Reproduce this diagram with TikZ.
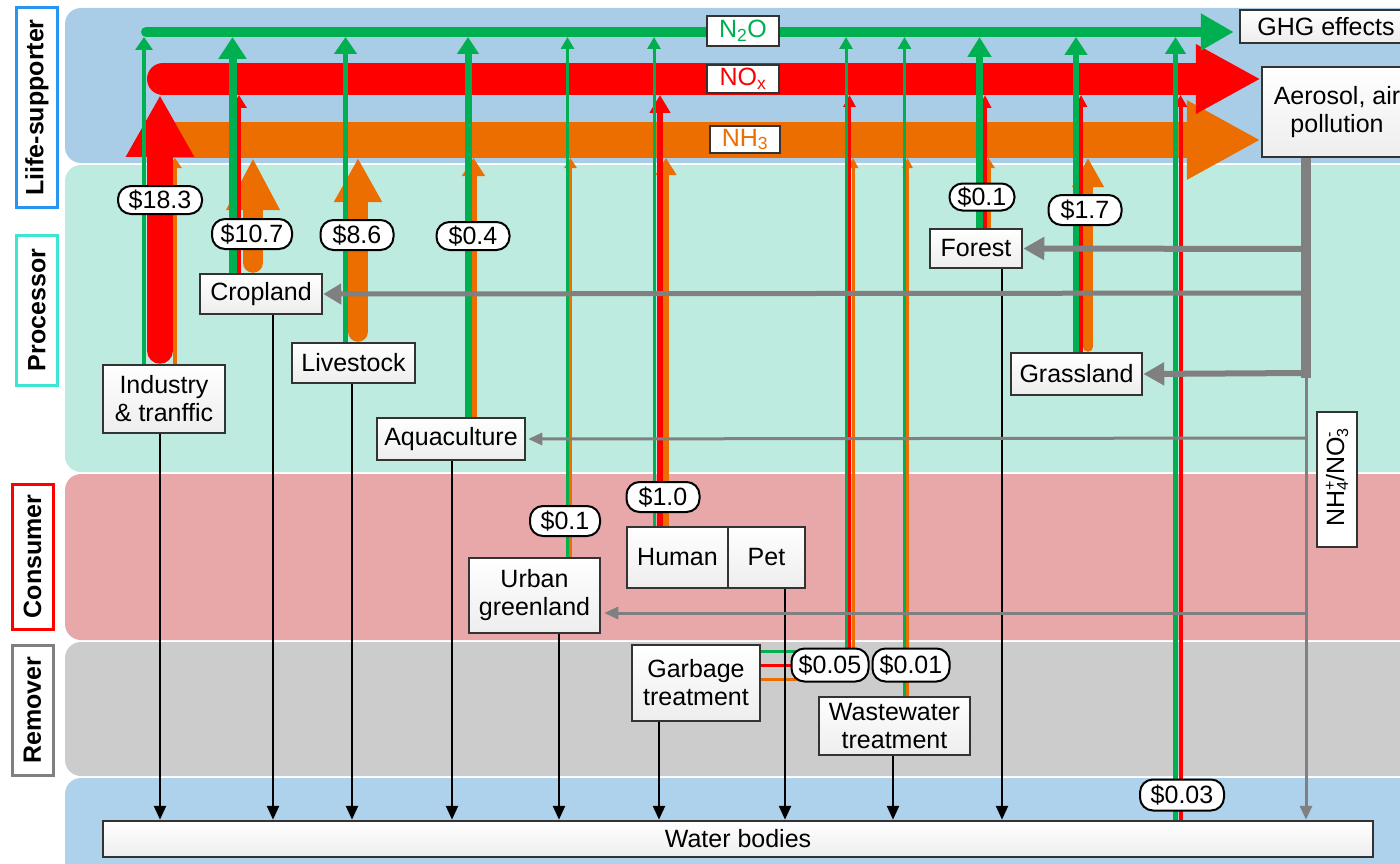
\documentclass[tikz,border=0pt]{standalone}
\usepackage{fontspec}
\setmainfont{Liberation Sans}
\usetikzlibrary{arrows.meta}
\definecolor{cgrn}{RGB}{0,176,80}
\definecolor{cred}{RGB}{255,0,0}
\definecolor{corg}{RGB}{236,110,0}
\definecolor{bandblue}{RGB}{170,205,231}
\definecolor{bandblueb}{RGB}{174,210,236}
\definecolor{bandteal}{RGB}{190,235,223}
\definecolor{bandred}{RGB}{232,168,170}
\definecolor{bandgray}{RGB}{204,204,204}
\definecolor{lblue}{RGB}{40,150,240}
\definecolor{lteal}{RGB}{60,230,210}
\definecolor{cgray}{RGB}{128,128,128}
\newcommand{\fsz}{\fontsize{25}{28}\selectfont}
\newcommand{\smallidx}[1]{{\fontsize{16}{16}\selectfont #1}}
\pgfdeclarelayer{L0}
\pgfdeclarelayer{L1}
\pgfdeclarelayer{L2}
\pgfdeclarelayer{L3}
\pgfdeclarelayer{L4}
\pgfsetlayers{L0,L1,L2,L3,L4,main}
\begin{document}
\begin{tikzpicture}[x=1pt,y=-1pt,
  band/.style={rounded corners=16pt},
  lab/.style={draw, line width=3pt, fill=white, font=\fsz\bfseries, rotate=90, inner sep=0pt, minimum height=41pt},
  box/.style={draw=black!80, line width=2.5pt, top color=white, bottom color=black!7, font=\fsz, align=center, inner sep=0pt},
  pill/.style={draw=black, line width=2pt, fill=white, rounded corners=13pt, font=\fsz, inner sep=0pt},
  tag/.style={draw=black!80, line width=2.5pt, fill=white, font=\fsz, inner sep=0pt},
  gA/.style n args={3}{draw=cgrn, line width=#1pt, -{Triangle[length=#2pt,width=#3pt]}},
  rA/.style n args={3}{draw=cred, line width=#1pt, -{Triangle[length=#2pt,width=#3pt]}},
  oA/.style n args={3}{draw=corg, line width=#1pt, -{Triangle[length=#2pt,width=#3pt]}},
  blk/.style={draw=black, line width=2.5pt, -{Triangle[length=14pt,width=12pt]}},
  gthick/.style={draw=cgray, line width=6pt, -{Triangle[length=21pt,width=22pt]}},
  gthin/.style={draw=cgray, line width=3pt, -{Triangle[length=14pt,width=12pt]}},
]
\useasboundingbox (0,0) rectangle (1400,864);

% ---------- nodes ----------
\node[box, minimum width=122pt, minimum height=68pt] (ind) at (164,399) {Industry\\\& tranffic};
\node[box, minimum width=122pt, minimum height=40pt] (crop) at (261,294) {Cropland};
\node[box, minimum width=123pt, minimum height=40pt] (live) at (353.5,363) {Livestock};
\node[box, minimum width=148pt, minimum height=42pt] (aqua) at (451,439) {Aquaculture};
\node[box, minimum width=131pt, minimum height=75pt] (urban) at (534.5,595.5) {Urban\\greenland};
\node[box, minimum width=101pt, minimum height=61pt] (human) at (677.5,557.5) {Human};
\node[box, minimum width=77pt, minimum height=61pt] (pet) at (766.5,557.5) {Pet};
\node[box, minimum width=128pt, minimum height=76pt] (garb) at (696,683) {Garbage\\treatment};
\node[box, minimum width=151pt, minimum height=58pt] (waste) at (894.5,726) {Wastewater\\treatment};
\node[box, minimum width=92pt, minimum height=39pt] (forest) at (976,248.5) {Forest};
\node[box, minimum width=131pt, minimum height=42pt] (grass) at (1076.5,374) {Grassland};
\node[box, minimum width=1270pt, minimum height=36pt] (water) at (738,839) {Water bodies};
\node[box, minimum width=172pt, minimum height=33pt] (ghg) at (1326,26.5) {GHG effects};
\node[box, minimum width=150pt, minimum height=90pt] (aer) at (1337,112) {Aerosol, air\\pollution};

\node[pill, minimum width=84pt, minimum height=28pt] (p183) at (160,200) {\$18.3};
\node[pill, minimum width=80pt, minimum height=30pt] (p107) at (252,234) {\$10.7};
\node[pill, minimum width=73pt, minimum height=30pt] (p86) at (357,235) {\$8.6};
\node[pill, minimum width=73pt, minimum height=28pt] (p04) at (473,236) {\$0.4};
\node[pill, minimum width=70pt, minimum height=30pt] (p01u) at (565,521) {\$0.1};
\node[pill, minimum width=73pt, minimum height=30pt] (p10) at (663,497) {\$1.0};
\node[pill, minimum width=77pt, minimum height=33pt] (p005) at (830,665) {\$0.05};
\node[pill, minimum width=77pt, minimum height=33pt] (p001) at (911,665) {\$0.01};
\node[pill, minimum width=65pt, minimum height=27pt] (p01f) at (982,197) {\$0.1};
\node[pill, minimum width=73pt, minimum height=30pt] (p17) at (1085,210) {\$1.7};
\node[pill, minimum width=84pt, minimum height=31pt] (p003) at (1182,795) {\$0.03};

\node[tag, text=cgrn, minimum width=72pt, minimum height=30pt] (ln2o) at (743,31) {N\textsubscript{2}O};
\node[tag, text=cred, minimum width=72pt, minimum height=28pt] (lnox) at (743,79) {NO\textsubscript{x}};
\node[tag, text=corg, minimum width=70pt, minimum height=27pt] (lnh3) at (745,139.5) {NH\textsubscript{3}};
\node[tag, line width=2pt, rotate=90, minimum width=135pt, minimum height=40pt] (nhno) at (1337,479.5)
  {NH\rlap{\raisebox{9pt}{\smallidx{+}}}\raisebox{-4pt}{\smallidx{4}}/NO\rlap{\raisebox{-4pt}{\smallidx{3}}}\raisebox{10pt}{\smallidx{-}}};

\coordinate (gT) at (0,37);
\coordinate (rT) at (0,95);
\coordinate (oT) at (0,158);
\coordinate (gj) at (1306,378);

% ---------- bands and side labels ----------
\begin{pgfonlayer}{L0}
\fill[bandblue, band] (65,8) rectangle (1440,163);
\fill[bandteal, band] (65,165) rectangle (1440,472);
\fill[bandred, band] (65,474) rectangle (1440,640);
\fill[bandgray, band] (65,642) rectangle (1440,776);
\fill[bandblueb, band] (65,778) rectangle (1440,900);
\node[lab, draw=lblue, minimum width=199pt] (L1) at (37,107.5) {Liife-supporter};
\node[lab, draw=lteal, minimum width=150pt] (L2) at (37,310) {Processor};
\node[lab, draw=cred, minimum width=145pt] (L3) at (32.5,556.5) {Consumer};
\node[lab, draw=cgray, minimum width=130pt] (L4) at (32.5,710) {Remover};
\end{pgfonlayer}

% ---------- horizontal flux bars ----------
\begin{pgfonlayer}{L1}
\draw[corg, line width=36pt, -{Triangle[length=74pt,width=74pt]}] (160,140) -- (aer.west |- 0,140);
\draw[cred, line width=32pt, line cap=round, -{Triangle[length=65pt,width=65pt]}] (163,79) -- (aer.west |- 0,79);
\draw[cgrn, line width=10pt, line cap=round, shorten >=5pt, -{Triangle[length=33pt,width=35pt]}] (146,32) -- (ghg.west |- 0,32);
\end{pgfonlayer}

% ---------- vertical emission arrows ----------
\begin{pgfonlayer}{L2}
% orange
\draw[oA={4}{10}{13}] (175,0 |- ind.north) -- (175,0 |- oT);
\draw[oA={20}{52}{50}, line cap=round, shorten <=10pt] (253,0 |- crop.north) -- (253,0 |- oT);
\draw[oA={20}{44}{45}, line cap=round, shorten <=10pt] (358,0 |- live.north) -- (358,0 |- oT);
\draw[oA={6}{18}{22}] (473.5,0 |- aqua.north) -- (473.5,0 |- oT);
\draw[oA={3}{10}{12}] (570.5,0 |- urban.north) -- (570.5,0 |- oT);
\draw[oA={6}{17}{20}] (666,0 |- human.north) -- (666,0 |- oT);
\draw[oA={3}{10}{10}] (853,0 |- p005.center) -- (853,0 |- oT);
\draw[oA={3}{10}{10}] (907.5,0 |- waste.north) -- (907.5,0 |- oT);
\draw[oA={4}{10}{12}] (988.5,0 |- forest.north) -- (988.5,0 |- oT);
\draw[oA={10}{29}{30}, line cap=round, shorten <=5pt] (1088,0 |- grass.north) -- (1088,0 |- oT);
\draw[draw=corg, line width=3pt] (garb.east |- 0,679) -- (p005.center |- 0,679);
% red
\draw[rA={26}{62}{64}, line cap=round, shorten <=13pt] (160,0 |- ind.north) -- (160,0 |- rT);
\draw[rA={4}{13}{15}] (239,0 |- crop.north) -- (239,0 |- rT);
\draw[rA={6}{18}{20}] (660,0 |- human.north) -- (660,0 |- rT);
\draw[rA={3}{12}{12}] (849.5,0 |- p005.center) -- (849.5,0 |- rT);
\draw[rA={3.5}{13}{12}] (985,0 |- forest.north) -- (985,0 |- rT);
\draw[rA={4}{12}{12}] (1081,0 |- grass.north) -- (1081,0 |- rT);
\draw[rA={4}{12}{13}] (1180.5,0 |- water.north) -- (1180.5,0 |- rT);
\draw[draw=cred, line width=3pt] (garb.east |- 0,665) -- (p005.center |- 0,665);
% green
\draw[gA={4}{13}{17}] (144,0 |- ind.north) -- (144,0 |- gT);
\draw[gA={8}{22}{27}] (232.5,0 |- crop.north) -- (232.5,0 |- gT);
\draw[gA={5}{17}{22}] (345.5,0 |- live.north) -- (345.5,0 |- gT);
\draw[gA={7}{17}{21}] (468,0 |- aqua.north) -- (468,0 |- gT);
\draw[gA={3}{12}{13}] (567.5,0 |- urban.north) -- (567.5,0 |- gT);
\draw[gA={3}{12}{13}] (654,0 |- human.north) -- (654,0 |- gT);
\draw[gA={3}{12}{13}] (846,0 |- p005.center) -- (846,0 |- gT);
\draw[gA={3}{12}{13}] (904.5,0 |- waste.north) -- (904.5,0 |- gT);
\draw[gA={7}{20}{23}] (979.5,0 |- forest.north) -- (979.5,0 |- gT);
\draw[gA={6}{18}{22}] (1076,0 |- grass.north) -- (1076,0 |- gT);
\draw[gA={5}{17}{20}] (1175.5,0 |- water.north) -- (1175.5,0 |- gT);
\draw[draw=cgrn, line width=3pt] (garb.east |- 0,651) -- (p005.center |- 0,651);
\end{pgfonlayer}

% ---------- water discharge ----------
\begin{pgfonlayer}{L3}
\draw[blk] (160,0 |- ind.south) -- (160,0 |- water.north);
\draw[blk] (273,0 |- crop.south) -- (273,0 |- water.north);
\draw[blk] (352,0 |- live.south) -- (352,0 |- water.north);
\draw[blk] (452,0 |- aqua.south) -- (452,0 |- water.north);
\draw[blk] (559,0 |- urban.south) -- (559,0 |- water.north);
\draw[blk] (659,0 |- garb.south) -- (659,0 |- water.north);
\draw[blk] (785,0 |- pet.south) -- (785,0 |- water.north);
\draw[blk] (893,0 |- waste.south) -- (893,0 |- water.north);
\draw[blk] (1002,0 |- forest.south) -- (1002,0 |- water.north);
\end{pgfonlayer}

% ---------- deposition ----------
\begin{pgfonlayer}{L4}
\draw[cgray, line width=10pt] (1306,0 |- aer.south) -- (gj);
\draw[gthick] (1306,249) -- (forest.east);
\draw[gthick, line width=5pt, -{Triangle[length=18pt,width=20pt]}] (1306,293) -- (crop.east);
\draw[gthick] (1306,373) -- (grass.east);
\draw[gthin, shorten >=2pt] (1306,438) -- (aqua.east);
\draw[gthin, shorten >=3pt] (1306,613) -- (urban.east |- 0,613);
\draw[gthin] (gj) -- (gj |- water.north);
\end{pgfonlayer}
\end{tikzpicture}
\end{document}
